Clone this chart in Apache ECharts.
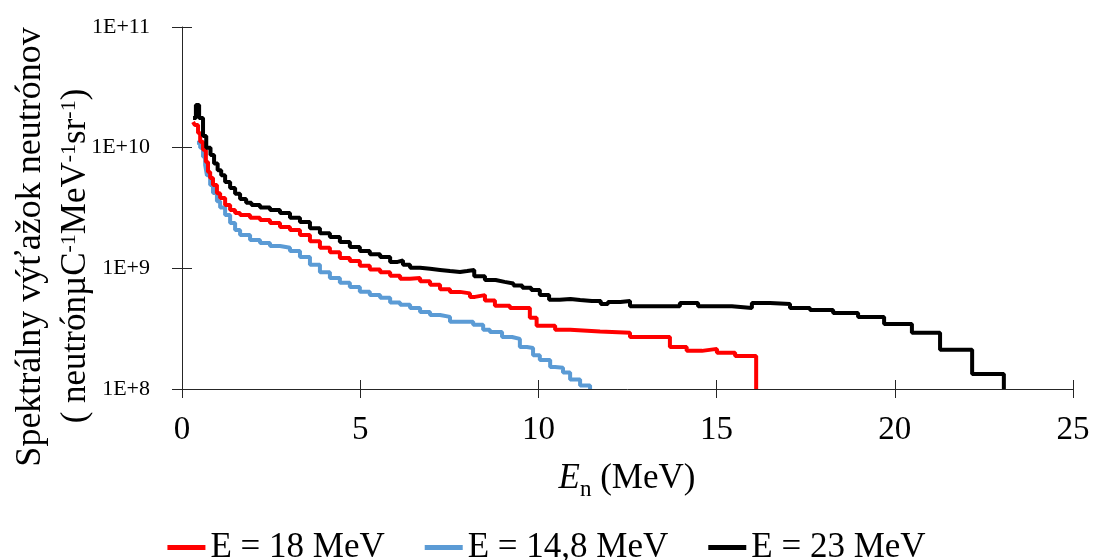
<!DOCTYPE html>
<html>
<head>
<meta charset="utf-8">
<script src="https://cdn.jsdelivr.net/npm/echarts@6/dist/echarts.min.js"></script>
<style>
html,body{margin:0;padding:0;background:#fff;}
#chart{width:1093px;height:560px;}
</style>
</head>
<body>
<div id="chart"></div>
<script>
// Series names
const seriesNames = ['E = 18 MeV', 'E = 14,8 MeV', 'E = 23 MeV'];

// E = 18 MeV (red) – bin left edges (MeV) and values
const xRed = [0.31,0.36,0.45,0.51,0.59,0.67,0.73,0.79,0.87,0.98,1.07,1.21,1.35,1.49,1.63,1.91,2.19,2.47,2.75,3.03,3.31,3.59,3.87,4.15,4.43,4.71,4.99,5.27,5.56,5.84,6.12,6.40,6.68,6.96,7.24,7.52,7.80,8.08,8.22,8.50,8.78,9.20,9.76,9.95,10.47,10.89,11.73,12.57,13.69,14.16,14.59,15.01,15.52,16.11];
const yRed = [1.63e10,1.54e10,1.32e10,1.12e10,9.6e9,7.6e9,6.3e9,5.6e9,4.9e9,4.2e9,3.83e9,3.35e9,3.05e9,2.88e9,2.77e9,2.62e9,2.52e9,2.38e9,2.20e9,2.08e9,1.89e9,1.68e9,1.48e9,1.36e9,1.22e9,1.15e9,1.05e9,9.8e8,9.3e8,8.7e8,8.2e8,8.3e8,7.8e8,7.3e8,6.7e8,6.38e8,6.2e8,5.8e8,6.0e8,5.4e8,4.9e8,4.7e8,3.9e8,3.35e8,3.1e8,3.0e8,2.92e8,2.7e8,2.23e8,2.07e8,2.15e8,2.0e8,1.88e8,1e8];

// E = 14,8 MeV (blue)
const xBlue = [0.42,0.51,0.59,0.65,0.70,0.79,0.87,0.98,1.07,1.21,1.35,1.49,1.63,1.91,2.19,2.47,2.75,3.03,3.31,3.59,3.87,4.15,4.43,4.71,4.99,5.27,5.56,5.84,6.12,6.40,6.68,6.96,7.24,7.52,8.17,8.45,8.64,8.98,9.26,9.48,9.68,9.85,10.04,10.33,10.47,10.69,10.89,11.17,11.45];
const yBlue = [1.1e10,1.0e10,8.4e9,7.2e9,5.9e9,4.9e9,4.21e9,3.6e9,3.2e9,2.77e9,2.38e9,2.08e9,1.89e9,1.72e9,1.62e9,1.53e9,1.48e9,1.39e9,1.24e9,1.07e9,9.3e8,8.3e8,7.6e8,7.0e8,6.4e8,6.0e8,5.7e8,5.2e8,4.98e8,4.7e8,4.35e8,4.11e8,3.96e8,3.6e8,3.4e8,3.1e8,2.97e8,2.7e8,2.6e8,2.23e8,2.19e8,1.9e8,1.74e8,1.52e8,1.5e8,1.37e8,1.2e8,1.07e8,1e8];

// E = 23 MeV (black)
const xBlack = [0.31,0.39,0.48,0.59,0.68,0.80,0.90,1.00,1.10,1.21,1.35,1.49,1.63,1.80,1.95,2.19,2.47,2.75,3.03,3.31,3.59,3.87,4.15,4.43,4.71,4.99,5.27,5.56,5.84,6.05,6.20,6.40,6.68,6.96,7.24,7.52,7.80,8.00,8.20,8.50,8.80,9.05,9.30,9.55,9.80,10.04,10.30,10.60,10.90,11.17,11.50,11.75,11.95,12.30,12.57,13.97,14.48,15.43,15.99,16.50,17.06,17.62,18.27,18.97,19.70,20.48,21.27,22.17,23.06];
const yBlack = [1.76e10,2.26e10,1.76e10,1.25e10,1.0e10,8.7e9,7.4e9,6.5e9,5.9e9,5.2e9,4.64e9,4.15e9,3.75e9,3.5e9,3.35e9,3.2e9,3.05e9,2.88e9,2.62e9,2.42e9,2.15e9,1.95e9,1.82e9,1.65e9,1.50e9,1.39e9,1.31e9,1.24e9,1.13e9,1.16e9,1.07e9,1.01e9,9.9e8,9.7e8,9.5e8,9.34e8,9.5e8,9.7e8,8.6e8,8.0e8,7.72e8,7.5e8,7.2e8,6.9e8,6.6e8,6.0e8,5.5e8,5.58e8,5.47e8,5.37e8,5.37e8,5.07e8,5.27e8,5.37e8,4.85e8,5.17e8,4.85e8,4.7e8,5.17e8,5.07e8,4.70e8,4.52e8,4.27e8,3.96e8,3.46e8,2.92e8,2.11e8,1.33e8,1e8];

// Axis ticks
const xTicks = [0, 5, 10, 15, 20, 25];
const yTickLabels = ['1E+8', '1E+9', '1E+10', '1E+11'];

const FONT = '"Liberation Serif", "Times New Roman", serif';
const zip = (xs, ys) => xs.map((x, i) => [x, ys[i]]);

const chart = echarts.init(document.getElementById('chart'), null, {renderer: 'canvas'});

const axisCol = '#262626';
const commonX = {
  type: 'value', min: xTicks[0], max: xTicks[xTicks.length - 1], interval: 5,
  position: 'bottom', splitLine: {show: false}
};
const commonY = {
  type: 'log', logBase: 10, min: 1e8, max: 1e11, position: 'left', splitLine: {show: false}
};

chart.setOption({
  backgroundColor: '#fff',
  animation: false,
  grid: {left: 182, right: 20, top: 27, bottom: 171, containLabel: false},
  legend: {
    data: seriesNames,
    left: 'center', top: 525,
    icon: 'rect', itemWidth: 38, itemHeight: 5, itemGap: 40,
    textStyle: {fontFamily: FONT, fontSize: 35, color: '#000'}
  },
  xAxis: [
    Object.assign({}, commonX, {
      axisLine: {show: true, lineStyle: {color: axisCol, width: 1}},
      axisTick: {show: true, length: 9, inside: false, lineStyle: {color: axisCol}},
      axisLabel: {show: true, margin: 25, fontFamily: FONT, fontSize: 33, color: '#000'}
    }),
    Object.assign({}, commonX, {
      axisLine: {show: false},
      axisTick: {show: true, length: 9, inside: true, lineStyle: {color: axisCol}},
      axisLabel: {show: false}
    })
  ],
  yAxis: [
    Object.assign({}, commonY, {
      axisLine: {show: true, lineStyle: {color: axisCol, width: 1}},
      axisTick: {show: true, length: 10, inside: false, lineStyle: {color: axisCol}},
      axisLabel: {
        show: true, margin: 32, fontFamily: FONT, fontSize: 22, color: '#000',
        padding: [0, 0, 11, 0],
        formatter: function (v) {
          const e = Math.round(Math.log10(v));
          const idx = e - 8;
          return yTickLabels[idx] !== undefined ? yTickLabels[idx] : '';
        }
      }
    }),
    Object.assign({}, commonY, {
      axisLine: {show: false},
      axisTick: {show: true, length: 10, inside: true, lineStyle: {color: axisCol}},
      axisLabel: {show: false}
    })
  ],
  graphic: [
    {
      type: 'text', x: 31, y: 247, rotation: Math.PI / 2,
      style: {
        text: 'Spektrálny výťažok neutrónov',
        fontFamily: FONT, fontSize: 36, fill: '#000',
        textAlign: 'center', textVerticalAlign: 'middle'
      }
    },
    {
      type: 'text', x: 76, y: 256, rotation: Math.PI / 2,
      style: {
        text: '{m|( neutrónµC}{s|-1}{m|MeV}{s|-1}{m|sr}{s|-1}{m|)}',
        fontFamily: FONT, fontSize: 35, fill: '#000',
        textAlign: 'center', textVerticalAlign: 'middle',
        rich: {
          m: {fontFamily: FONT, fontSize: 35, fill: '#000'},
          s: {fontFamily: FONT, fontSize: 22, fill: '#000', verticalAlign: 'top'}
        }
      }
    },
    {
      type: 'text', x: 627, y: 481,
      style: {
        text: '{it|E}{sub|n}{rm| (MeV)}',
        fontFamily: FONT, fontSize: 35, fill: '#000',
        textAlign: 'center', textVerticalAlign: 'middle',
        rich: {
          it: {fontFamily: FONT, fontSize: 35, fontStyle: 'italic', fill: '#000', verticalAlign: 'top'},
          sub: {fontFamily: FONT, fontSize: 23, fill: '#000', verticalAlign: 'top', padding: [17, 0, 0, 0]},
          rm: {fontFamily: FONT, fontSize: 35, fill: '#000', verticalAlign: 'top'}
        }
      }
    }
  ],
  series: [
    {
      name: seriesNames[0], type: 'line', step: 'end', showSymbol: false,
      data: zip(xRed, yRed), color: '#FF0000',
      lineStyle: {width: 4, color: '#FF0000'}, z: 3
    },
    {
      name: seriesNames[1], type: 'line', step: 'end', showSymbol: false,
      data: zip(xBlue, yBlue), color: '#5B9BD5',
      lineStyle: {width: 4, color: '#5B9BD5'}, z: 2
    },
    {
      name: seriesNames[2], type: 'line', step: 'end', showSymbol: false,
      data: zip(xBlack, yBlack), color: '#000000',
      lineStyle: {width: 4, color: '#000000'}, z: 4
    }
  ]
});
</script>
</body>
</html>
